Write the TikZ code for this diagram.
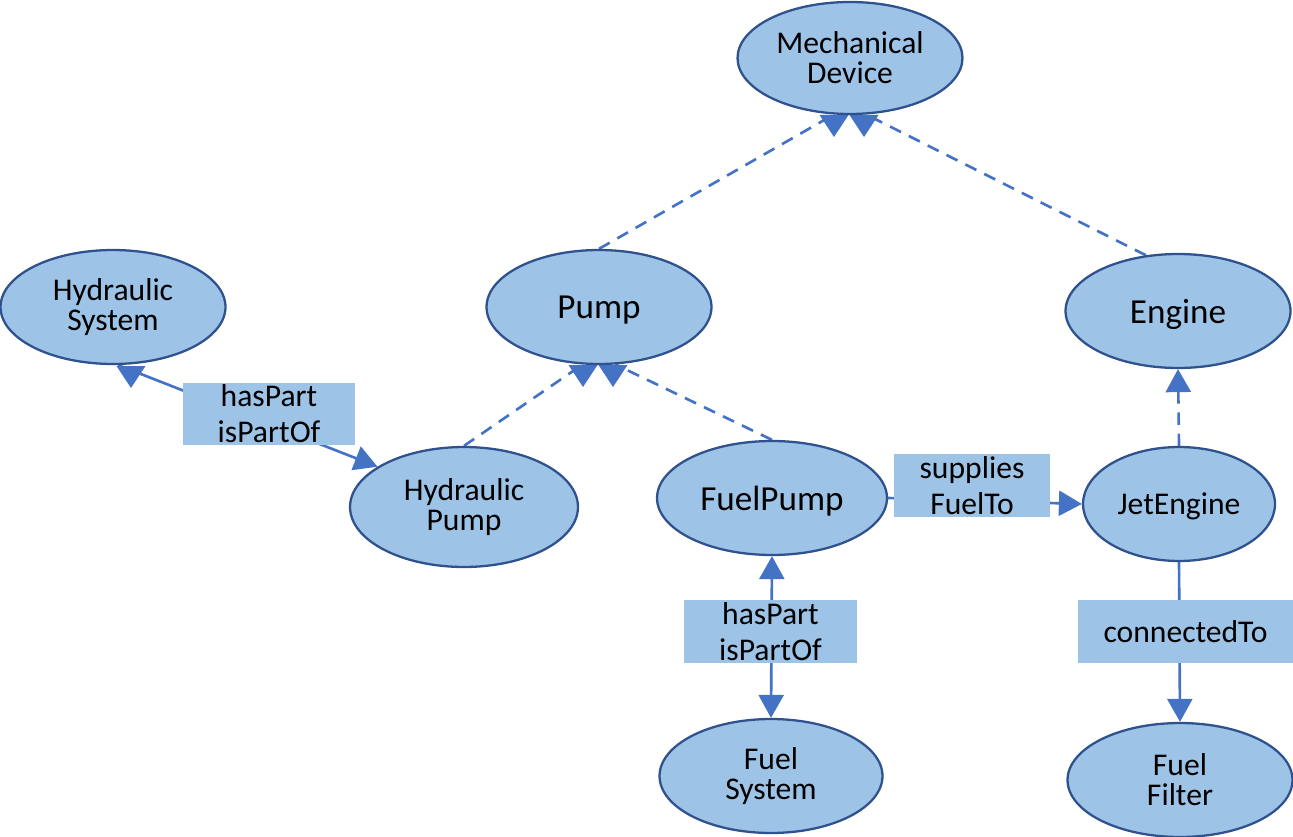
\documentclass[tikz,border=0pt]{standalone}
\usepackage{fontspec}
\setmainfont{Carlito}
\usepackage{tikz}
\usetikzlibrary{arrows.meta,shapes.geometric,backgrounds}
\definecolor{clsF}{RGB}{157,195,230}
\definecolor{clsB}{RGB}{47,82,143}
\definecolor{relB}{RGB}{68,114,196}

\begin{document}
\begin{tikzpicture}[x=0.02cm, y=-0.02cm, >={Triangle[length=4.6mm,width=5mm]},
  c/.style={ellipse, draw=clsB, fill=clsF, line width=1.3pt, inner sep=0, align=center,
    minimum width=4.5cm, minimum height=2.28cm, font=\fontsize{18}{17}\selectfont},
  b/.style={c, text depth=0pt, font=\fontsize{20}{22}\selectfont},
  l/.style={rectangle, fill=clsF, inner sep=0, align=center, minimum height=1.26cm,
    font=\fontsize{18}{20.5}\selectfont},
  r/.style={draw=relB, line width=1.5pt},
  g/.style={r, dash pattern=on 7pt off 5pt},
  tip/.pic={\fill[relB] (-2.9mm,0) -- (2.9mm,0) -- (0,-4.4mm) -- cycle;}]
  \useasboundingbox (0,0) rectangle (1293,837);
  \node[c, minimum height=2.24cm] (md) at (850,58) {Mechanical\\Device};
  \node[c] (hs) at (113,307) {Hydraulic\\System};
  \node[b] (pump) at (599,307) {Pump};
  \node[b] (eng) at (1178,311) {Engine};
  \node[c, minimum width=4.56cm, minimum height=2.4cm] (hp) at (464,507) {Hydraulic\\Pump};
  \node[b, minimum width=4.6cm] (fp) at (772,498) {FuelPump};
  \node[c, text depth=0pt, minimum width=3.84cm] (je) at (1179,504) {JetEngine};
  \node[c, minimum width=4.46cm] (fs) at (771,776) {Fuel\\System};
  \node[c] (ff) at (1180,780) {Fuel\\Filter};
  \node[l, minimum width=3.46cm] (l1) at (269,414) {hasPart\\isPartOf};
  \node[l, minimum width=3.12cm] (l2) at (972,485.5) {supplies\\FuelTo};
  \node[l, minimum width=3.46cm] (l3) at (770.5,631.5) {hasPart\\isPartOf};
  \node[l, minimum width=4.3cm] (l4) at (1185.5,631.5) {connectedTo};
  \begin{pgfonlayer}{background}
    \draw[g] (pump.north) -- (md.254);
    \draw[g] (eng.120) -- (md.286);
    \draw[g] (hp.north) -- (pump.254);
    \draw[g] (fp.north) -- (pump.286);
    \draw[g, ->] (je.north) -- (eng.south);
    \draw[r, ->] (hs.275) -- (hp.155);
    \draw[r, <->] (fp.south) -- (fs.north);
    \draw[r, ->] (fp.east) -- (je.west);
    \draw[r, ->] (je.south) -- (ff.north);
    \pic at (834,115) {tip};
    \pic at (864,115) {tip};
    \pic at (583,365) {tip};
    \pic at (613,365) {tip};
    \pic at (131,366) {tip};
  \end{pgfonlayer}
\end{tikzpicture}
\end{document}
